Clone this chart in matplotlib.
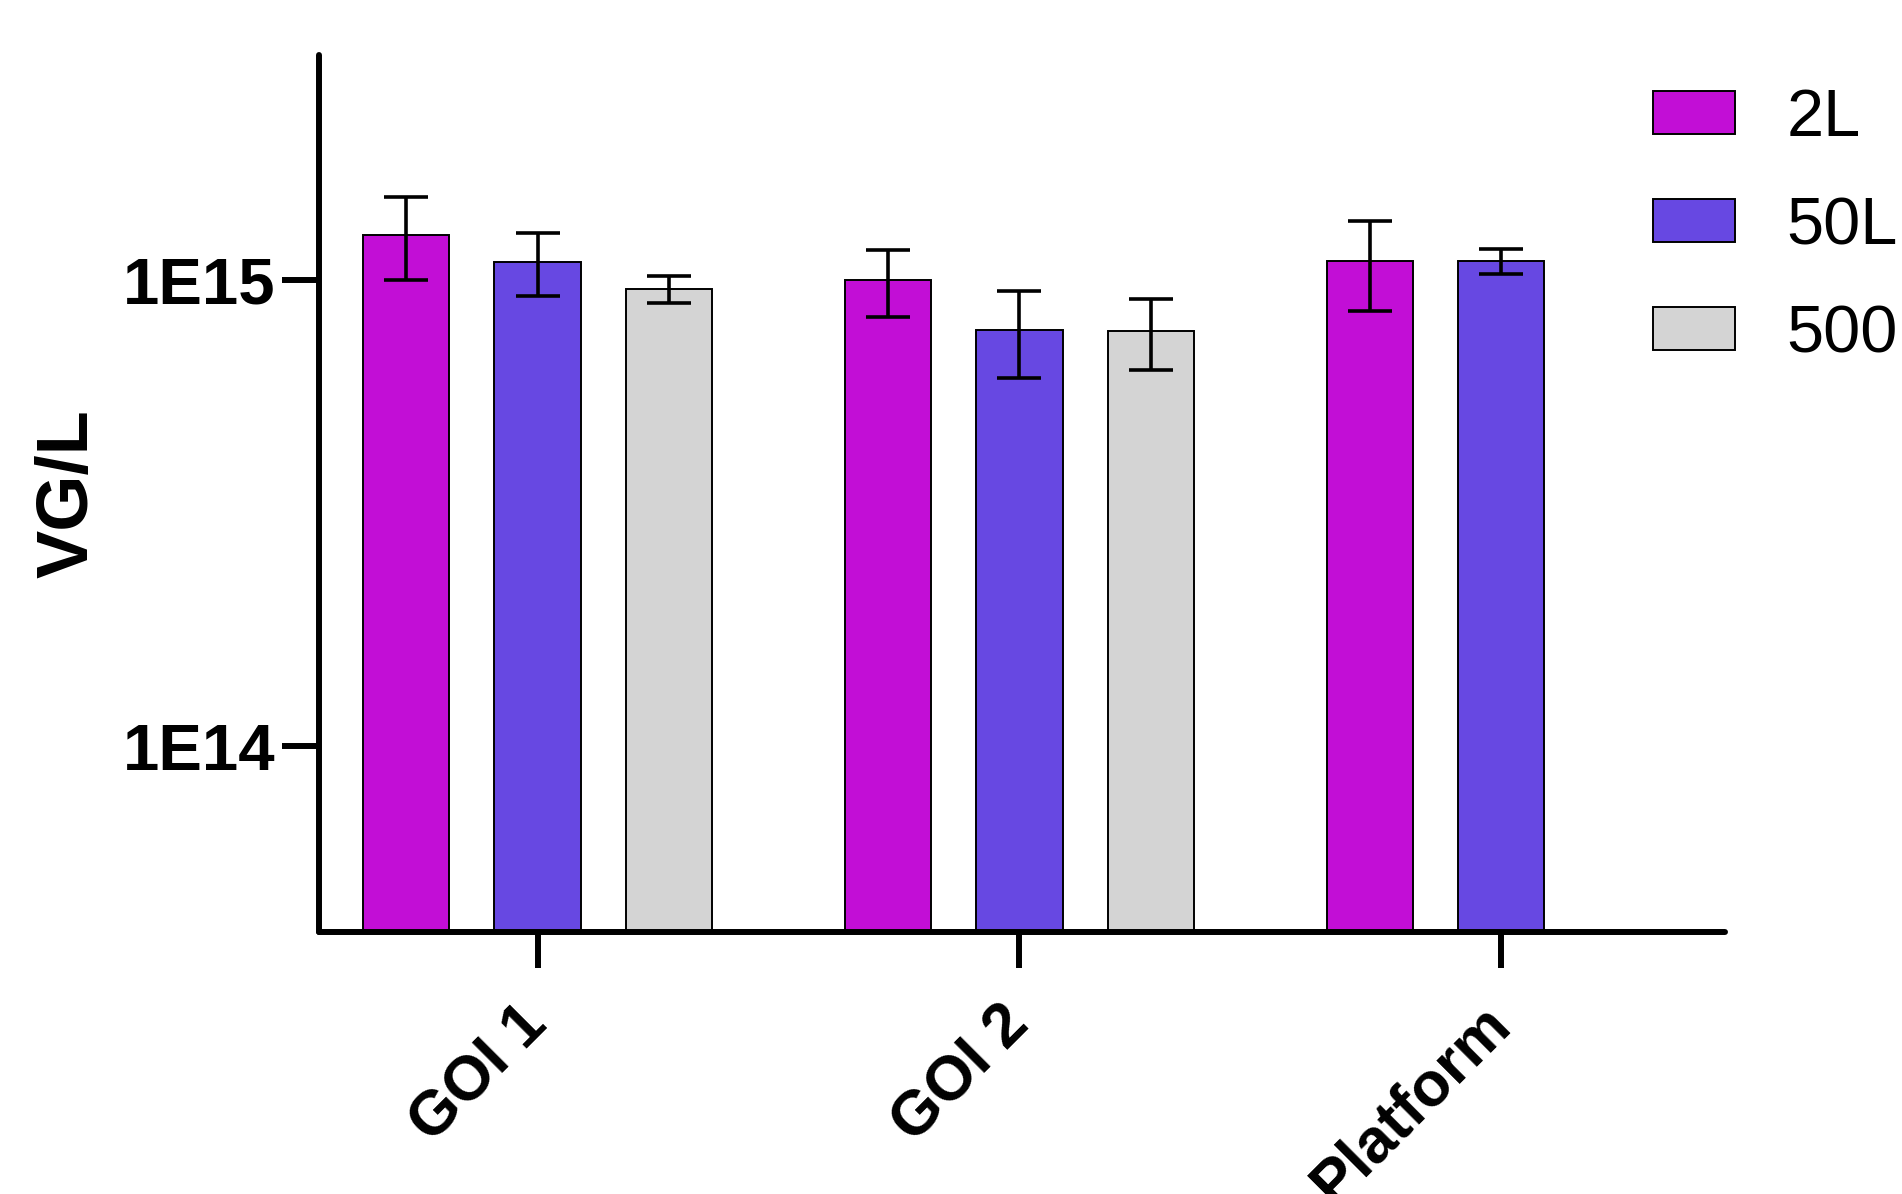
import numpy as np
import matplotlib.pyplot as plt
from matplotlib.ticker import FixedLocator, NullLocator, FuncFormatter

plt.rcParams['font.family'] = ['Liberation Sans', 'DejaVu Sans']

groups = ["GOI 1", "GOI 2", "Platform"]
series = ["2L", "50L", "500L"]
colors = ["#C20ED6", "#6748E2", "#D4D4D4"]

# mean VG/L and SD per series, one entry per group
means = {
    "2L":   [1.255e15, 1.00e15, 1.10e15],
    "50L":  [1.095e15, 0.782e15, 1.10e15],
    "500L": [0.959e15, 0.778e15, np.nan],
}
sds = {
    "2L":   [0.255e15, 0.165e15, 0.240e15],
    "50L":  [0.170e15, 0.166e15, 0.067e15],
    "500L": [0.065e15, 0.135e15, np.nan],
}

fig = plt.figure(figsize=(19.02, 11.94), dpi=100)
ax = fig.add_axes([0.1677, 0.2198, 0.907 - 0.1677, 0.954 - 0.2198])

group_step = 3.66
width = 0.655
xc = np.arange(len(groups)) * group_step

for i, s in enumerate(series):
    x = xc + (i - 1)
    m = np.array(means[s])
    e = np.array(sds[s])
    ax.bar(x, m, width=width, color=colors[i], edgecolor="black",
           linewidth=1.4, label=s, zorder=2)
    ax.errorbar(x, m, yerr=e, fmt="none", ecolor="black", elinewidth=2.6,
                capsize=16, capthick=2.6, zorder=3)

ax.set_yscale("log")
ax.set_ylim(4e13, 3.05e15)
ax.set_xlim(-1.66, 2 * group_step + 1.70)

ax.yaxis.set_major_locator(FixedLocator([1e14, 1e15]))
ax.yaxis.set_minor_locator(NullLocator())
ax.yaxis.set_major_formatter(FuncFormatter(lambda v, p: "1E%d" % round(np.log10(v))))
ax.set_xticks(xc)
ax.set_xticklabels(groups, rotation=45, ha="right", va="center",
                   rotation_mode="anchor", fontsize=45, fontweight="bold")
ax.xaxis.set_minor_locator(NullLocator())

for side in ["top", "right"]:
    ax.spines[side].set_visible(False)
for side in ["left", "bottom"]:
    ax.spines[side].set_linewidth(4.3)
    ax.spines[side].set_capstyle("round")
    ax.spines[side].set_zorder(4)

ax.tick_params(axis="y", length=27, width=4.3, pad=4, labelsize=47)
ax.tick_params(axis="x", length=26, width=4.3, pad=34)
for lbl in ax.get_yticklabels():
    lbl.set_fontweight("bold")
for t in ax.xaxis.get_major_ticks() + ax.yaxis.get_major_ticks():
    t.tick1line.set_solid_capstyle("round")

ax.set_ylabel("VG/L", fontsize=52, fontweight="bold")
ax.yaxis.set_label_coords(-0.154, 0.5)

fig.legend(loc="upper left", bbox_to_anchor=(0.869, 0.926), frameon=False,
           fontsize=48, handlelength=1.23, handleheight=0.62,
           handletextpad=0.77, labelspacing=0.69, borderpad=0, borderaxespad=0)

fig.savefig("out.png", dpi=100)
